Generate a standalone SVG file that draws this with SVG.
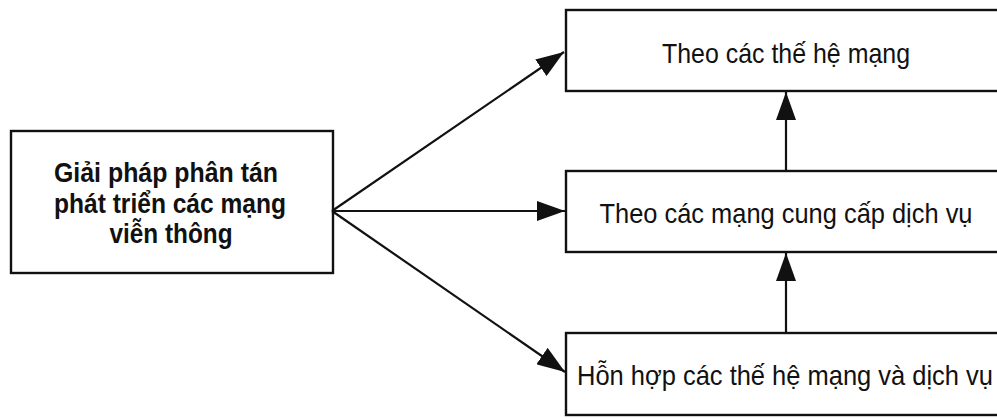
<svg xmlns="http://www.w3.org/2000/svg" width="997" height="418" viewBox="0 0 997 418">
  <style>
    .box { fill: #ffffff; stroke: #111111; stroke-width: 2.4; }
    .lbl { font-family: "Liberation Sans", Arial, sans-serif; font-size: 28px; fill: #111111; }
    .bold { font-weight: bold; }
    .conn { stroke: #111111; stroke-width: 2.2; fill: none; marker-end: url(#arrow); }
  </style>
  <defs>
    <marker id="arrow" viewBox="0 0 28 20" refX="28" refY="10" markerWidth="28" markerHeight="20" markerUnits="userSpaceOnUse" orient="auto">
      <path d="M0,0 L28,10 L0,20 Z" fill="#111111"/>
    </marker>
  </defs>
  <rect width="997" height="418" fill="#ffffff"/>

  <g id="node-root">
    <rect class="box" x="11" y="131" width="322" height="142"/>
    <text class="lbl bold" x="166" y="182" text-anchor="middle" textLength="224" lengthAdjust="spacingAndGlyphs">Giải pháp phân tán</text>
    <text class="lbl bold" x="170" y="213" text-anchor="middle" textLength="232" lengthAdjust="spacingAndGlyphs">phát triển các mạng</text>
    <text class="lbl bold" x="171" y="243" text-anchor="middle" textLength="123" lengthAdjust="spacingAndGlyphs">viễn thông</text>
  </g>

  <!-- right-hand boxes run past the right edge of the sheet -->
  <g id="node-generations">
    <rect class="box" x="566" y="10" width="433" height="81"/>
    <text class="lbl" x="786" y="63" text-anchor="middle" textLength="248" lengthAdjust="spacingAndGlyphs">Theo các thế hệ mạng</text>
  </g>

  <g id="node-services">
    <rect class="box" x="566" y="171" width="433" height="81"/>
    <text class="lbl" x="786" y="223" text-anchor="middle" textLength="373" lengthAdjust="spacingAndGlyphs">Theo các mạng cung cấp dịch vụ</text>
  </g>

  <g id="node-hybrid">
    <rect class="box" x="566" y="333" width="433" height="82"/>
    <text class="lbl" x="577" y="385" textLength="416" lengthAdjust="spacingAndGlyphs">Hỗn hợp các thế hệ mạng và dịch vụ</text>
  </g>

  <g id="connectors">
    <line class="conn" x1="332" y1="211" x2="564" y2="52"/>
    <line class="conn" x1="332" y1="211" x2="565" y2="211"/>
    <line class="conn" x1="332" y1="211" x2="565" y2="372"/>
    <line class="conn" x1="786" y1="171" x2="786" y2="92"/>
    <line class="conn" x1="786" y1="333" x2="786" y2="253"/>
  </g>
</svg>
